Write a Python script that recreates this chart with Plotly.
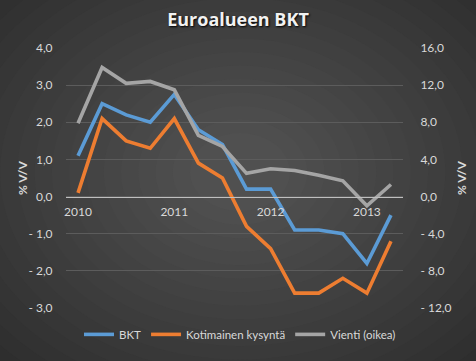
import plotly.graph_objects as go

quarters = ["2010Q1","2010Q2","2010Q3","2010Q4","2011Q1","2011Q2","2011Q3","2011Q4",
            "2012Q1","2012Q2","2012Q3","2012Q4","2013Q1","2013Q2"]
bkt = [1.1, 2.5, 2.2, 2.0, 2.75, 1.8, 1.4, 0.2, 0.2, -0.9, -0.9, -1.0, -1.8, -0.5]
kotimainen = [0.1, 2.1, 1.5, 1.3, 2.1, 0.9, 0.5, -0.8, -1.4, -2.6, -2.6, -2.2, -2.6, -1.2]
vienti = [7.9, 13.9, 12.2, 12.4, 11.5, 6.6, 5.4, 2.5, 3.0, 2.8, 2.3, 1.7, -1.0, 1.3]

year_ticks = [0, 4, 8, 12]
year_labels = ["2010", "2011", "2012", "2013"]
left_vals = [4, 3, 2, 1, 0, -1, -2, -3]
left_text = ["4,0", "3,0", "2,0", "1,0", "0,0", "- 1,0", "- 2,0", "- 3,0"]
right_vals = [16, 12, 8, 4, 0, -4, -8, -12]
right_text = ["16,0", "12,0", "8,0", "4,0", "0,0", "- 4,0", "- 8,0", "- 12,0"]

W, H = 476, 361
L, R, T, B = 66, 403, 48, 314
def px(x): return (x - L) / (R - L)
def py(y): return (B - y) / (B - T)

x = list(range(len(quarters)))
fig = go.Figure()
fig.add_trace(go.Scatter(x=x, y=bkt, name="BKT", mode="lines",
                         line=dict(color="#5b9bd5", width=3.6)))
fig.add_trace(go.Scatter(x=x, y=kotimainen, name="Kotimainen kysyntä", mode="lines",
                         line=dict(color="#ed7d31", width=3.6)))
fig.add_trace(go.Scatter(x=x, y=vienti, name="Vienti (oikea)", mode="lines", yaxis="y2",
                         line=dict(color="#a5a5a5", width=3.6)))

# radial background gradient
shapes = []
N = 22
cx, cy = 240, 175
outer = (0x27, 0x27, 0x27)
inner = (0x50, 0x50, 0x50)
for i in range(N):
    t = i / (N - 1)
    r = 330 * (1 - t) + 40 * t
    rx, ry = r * 1.25, r * 1.0
    c = tuple(int(outer[k] + (inner[k] - outer[k]) * t) for k in range(3))
    shapes.append(dict(type="circle", xref="paper", yref="paper", layer="below",
                       x0=px(cx - rx), x1=px(cx + rx), y0=py(cy + ry), y1=py(cy - ry),
                       fillcolor="rgb(%d,%d,%d)" % c, line=dict(width=0)))

tickfont = dict(family="Lato, Carlito, sans-serif", size=12, color="#d9d9d9")

fig.update_layout(
    width=W, height=H,
    margin=dict(l=L, r=W - R, t=T, b=H - B),
    paper_bgcolor="#2a2a2a", plot_bgcolor="rgba(0,0,0,0)",
    shapes=shapes,
    title=dict(text="<b>Euroalueen BKT</b>", x=0.5, xanchor="center", y=1 - 20 / H,
               yanchor="middle",
               font=dict(family="Open Sans, sans-serif", size=18, color="#f2f2f2",
                         shadow="1px 1px 2px #000000")),
    xaxis=dict(range=[-0.5, 13.5], tickvals=year_ticks, ticktext=year_labels,
               showgrid=False, zeroline=False, anchor="free", position=py(200),
               showline=True, linecolor="#bfbfbf", linewidth=1,
               ticks="outside", ticklen=4, tickcolor="rgba(0,0,0,0)",
               tickfont=tickfont),
    yaxis=dict(range=[-3, 4], tickvals=left_vals, ticktext=left_text,
               showgrid=True, gridcolor="#5c5c5c", gridwidth=1, zeroline=False,
               ticks="outside", ticklen=10, tickcolor="rgba(0,0,0,0)",
               tickfont=tickfont),
    yaxis2=dict(range=[-12, 16], tickvals=right_vals, ticktext=right_text,
                overlaying="y", side="right", showgrid=False, zeroline=False,
                ticks="outside", ticklen=14, tickcolor="rgba(0,0,0,0)",
                tickfont=tickfont),
    legend=dict(orientation="h", x=px(240), xanchor="center", y=py(341), yanchor="middle",
                font=dict(family="Lato, sans-serif", size=11.5, color="#d9d9d9"),
                bgcolor="rgba(0,0,0,0)", itemwidth=30, tracegroupgap=0),
    annotations=[
        dict(text="<b>% V/V</b>", xref="paper", yref="paper", x=px(22), y=py(181),
             textangle=-90, showarrow=False, xanchor="center", yanchor="middle",
             font=dict(family="Lato, sans-serif", size=12, color="#d9d9d9")),
        dict(text="<b>% V/V</b>", xref="paper", yref="paper", x=px(461), y=py(181),
             textangle=-90, showarrow=False, xanchor="center", yanchor="middle",
             font=dict(family="Lato, sans-serif", size=12, color="#d9d9d9")),
    ],
    showlegend=True,
)

fig.write_html("out.html", config={"displayModeBar": False},
               post_script="document.body.style.margin='0';document.body.style.overflow='hidden';")
